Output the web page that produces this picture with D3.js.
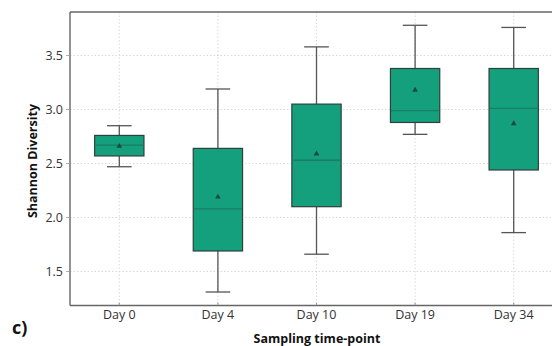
<!DOCTYPE html>
<html lang="en">
<head>
    <meta charset="UTF-8">
    <title>Shannon Diversity</title>
    <script src="https://d3js.org/d3.v7.min.js"></script>
    <style>
        body { margin: 0; background: #fff; }
        svg { display: block; font-family: "Open Sans", "DejaVu Sans", sans-serif; }
        .grid line { stroke: #cfcfcf; stroke-width: 0.8px; stroke-dasharray: 1.5 2; }
        .tick-label { font-size: 12.5px; fill: #333; }
        .axis-title { font-size: 12.5px; font-weight: bold; fill: #111; }
    </style>
</head>
<body>
<svg width="552" height="346"></svg>
<script>
    // data
    const days = ["Day 0", "Day 4", "Day 10", "Day 19", "Day 34"];
    const whiskerLow = [2.47, 1.31, 1.66, 2.77, 1.86];
    const q1 = [2.57, 1.69, 2.10, 2.88, 2.44];
    const median = [2.67, 2.08, 2.53, 2.99, 3.01];
    const q3 = [2.76, 2.64, 3.05, 3.38, 3.38];
    const whiskerHigh = [2.85, 3.19, 3.58, 3.78, 3.76];
    const mean = [2.66, 2.19, 2.59, 3.18, 2.87];
    const yTicks = [1.5, 2.0, 2.5, 3.0, 3.5];

    const boxes = days.map((d, i) => ({
        day: d, lo: whiskerLow[i], q1: q1[i], med: median[i],
        q3: q3[i], hi: whiskerHigh[i], mean: mean[i]
    }));

    const svg = d3.select("svg");
    const pLeft = 70, pTop = 12, pBottom = 305.5, pRight = 563;

    const x = d3.scalePoint().domain(days).range([pLeft, pRight]).padding(0.5);
    const step = x.step();
    const y = d3.scaleLinear().domain([1.185, 3.903]).range([pBottom, pTop]);

    // grid
    const grid = svg.append("g").attr("class", "grid");
    grid.selectAll(".gy").data(yTicks).enter().append("line")
        .attr("x1", pLeft).attr("x2", pRight)
        .attr("y1", d => y(d)).attr("y2", d => y(d));
    grid.selectAll(".gx").data(days).enter().append("line")
        .attr("x1", d => x(d)).attr("x2", d => x(d))
        .attr("y1", pTop).attr("y2", pBottom);

    // boxes
    const bw = step * 0.5;
    const g = svg.append("g").selectAll("g").data(boxes).enter().append("g");

    g.append("line")
        .attr("x1", d => x(d.day)).attr("x2", d => x(d.day))
        .attr("y1", d => y(d.q3)).attr("y2", d => y(d.hi))
        .attr("stroke", "#555").attr("stroke-width", 1.3);
    g.append("line")
        .attr("x1", d => x(d.day)).attr("x2", d => x(d.day))
        .attr("y1", d => y(d.q1)).attr("y2", d => y(d.lo))
        .attr("stroke", "#555").attr("stroke-width", 1.3);
    g.selectAll(".cap").data(d => [d, d].map((b, k) => ({ day: b.day, v: k ? b.hi : b.lo })))
        .enter().append("line")
        .attr("x1", d => x(d.day) - bw / 4).attr("x2", d => x(d.day) + bw / 4)
        .attr("y1", d => y(d.v)).attr("y2", d => y(d.v))
        .attr("stroke", "#555").attr("stroke-width", 1.3);
    g.append("rect")
        .attr("x", d => x(d.day) - bw / 2).attr("width", bw)
        .attr("y", d => y(d.q3)).attr("height", d => y(d.q1) - y(d.q3))
        .attr("fill", "#14a07c").attr("stroke", "#2f3f3a").attr("stroke-width", 1.2);
    g.append("line")
        .attr("x1", d => x(d.day) - bw / 2 + 0.6).attr("x2", d => x(d.day) + bw / 2 - 0.6)
        .attr("y1", d => y(d.med)).attr("y2", d => y(d.med))
        .attr("stroke", "#1b7d62").attr("stroke-width", 1.3);
    g.append("path")
        .attr("d", d3.symbol(d3.symbolTriangle, 14))
        .attr("transform", d => `translate(${x(d.day)},${y(d.mean)})`)
        .attr("fill", "#1d4a3d");

    // spines
    const spine = svg.append("g").attr("stroke", "#666").attr("stroke-width", 1.4);
    spine.append("line").attr("x1", pLeft).attr("x2", pLeft).attr("y1", pTop).attr("y2", pBottom);
    spine.append("line").attr("x1", pLeft).attr("x2", pRight).attr("y1", pBottom).attr("y2", pBottom);
    spine.append("line").attr("x1", pLeft).attr("x2", pRight).attr("y1", pTop).attr("y2", pTop);

    // ticks and labels
    svg.append("g").selectAll("line").data(yTicks).enter().append("line")
        .attr("x1", pLeft - 4).attr("x2", pLeft).attr("y1", d => y(d)).attr("y2", d => y(d))
        .attr("stroke", "#999").attr("stroke-width", 0.8);
    svg.append("g").selectAll("text").data(yTicks).enter().append("text")
        .attr("class", "tick-label")
        .attr("x", pLeft - 7).attr("y", d => y(d)).attr("dy", "0.35em")
        .attr("text-anchor", "end")
        .text(d3.format(".1f"));
    svg.append("g").selectAll("line").data(days).enter().append("line")
        .attr("x1", d => x(d)).attr("x2", d => x(d)).attr("y1", pBottom).attr("y2", pBottom - 3)
        .attr("stroke", "#888").attr("stroke-width", 0.8);
    svg.append("g").selectAll("text").data(days).enter().append("text")
        .attr("class", "tick-label")
        .attr("x", d => x(d)).attr("y", 315).attr("dy", "0.35em")
        .attr("text-anchor", "middle")
        .text(d => d);

    svg.append("text").attr("class", "axis-title")
        .attr("transform", "translate(33,161) rotate(-90)")
        .attr("text-anchor", "middle").attr("dy", "0.35em")
        .text("Shannon Diversity");
    svg.append("text").attr("class", "axis-title")
        .attr("x", 317).attr("y", 339).attr("dy", "0.35em")
        .attr("text-anchor", "middle")
        .text("Sampling time-point");
    svg.append("text")
        .attr("x", 12).attr("y", 328).attr("dy", "0.35em")
        .attr("font-size", 18).attr("font-weight", "bold").attr("fill", "#111")
        .text("c)");
</script>
</body>
</html>
